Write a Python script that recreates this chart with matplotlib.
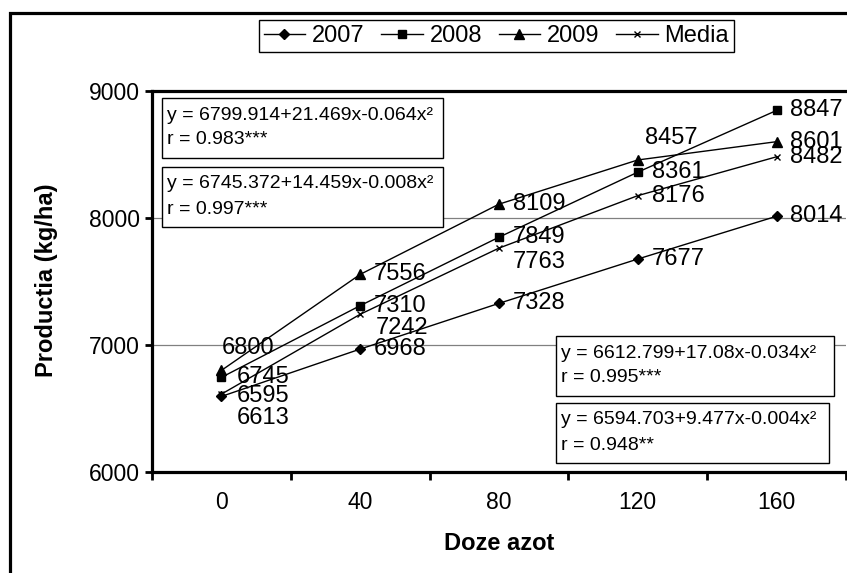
import matplotlib
matplotlib.use('Agg')
import matplotlib.pyplot as plt
from matplotlib.patches import Rectangle

plt.rcParams['font.family'] = ['Liberation Sans', 'DejaVu Sans']

# ---- data ----
doze = ['0', '40', '80', '120', '160']
y2007 = [6595, 6968, 7328, 7677, 8014]
y2008 = [6745, 7310, 7849, 8361, 8847]
y2009 = [6800, 7556, 8109, 8457, 8601]
media = [6613, 7242, 7763, 8176, 8482]
series_names = ['2007', '2008', '2009', 'Media']
yticks = [6000, 7000, 8000, 9000]

eq_lines = [
    ('y = 6799.914+21.469x-0.064x\u00b2', 'r = 0.983***'),
    ('y = 6745.372+14.459x-0.008x\u00b2', 'r = 0.997***'),
    ('y = 6612.799+17.08x-0.034x\u00b2', 'r = 0.995***'),
    ('y = 6594.703+9.477x-0.004x\u00b2', 'r = 0.948**'),
]

# ---- layout helpers (pixels -> figure fraction) ----
W, H = 847, 573
fig = plt.figure(figsize=(W / 100, H / 100), dpi=100)
def fx(px):
    return px / W
def fy(py):
    return 1 - py / H

# outer frame (cut by the image edges)
fig.patches.append(Rectangle((fx(10), fy(700)), 2.0, fy(13) - fy(700),
                             transform=fig.transFigure, fill=False,
                             edgecolor='black', linewidth=2.3))

ax = fig.add_axes([fx(152), fy(472), fx(846) - fx(152), fy(91) - fy(472)])
xs = list(range(len(doze)))

styles = [
    dict(marker='D', ms=5.5),
    dict(marker='s', ms=6),
    dict(marker='^', ms=7),
    dict(marker='x', ms=5, mew=1.0),
]
all_series = [y2007, y2008, y2009, media]
handles = []
for vals, name, st in zip(all_series, series_names, styles):
    h, = ax.plot(xs, vals, color='black', lw=1.0, mfc='black', mec='black',
                 label=name, zorder=3, **st)
    handles.append(h)

# data labels
default_off = (10, 0)
special = {
    (2, 0): (0, 16, 'left'),
    (3, 0): (11, -17, 'left'),
    (3, 1): (11, -10, 'left'),
    (3, 2): (10, -10, 'left'),
    (2, 3): (5, 16, 'left'),
    (0, 0): (11, 0, 'left'),
    (1, 0): (11, 0, 'left'),
}
for si, vals in enumerate(all_series):
    for i, v in enumerate(vals):
        dx, dy, ha = special.get((si, i), (default_off[0], default_off[1], 'left'))
        ax.annotate(str(v), (xs[i], v), xytext=(dx, dy), textcoords='offset points',
                    ha=ha, va='center', fontsize=17, color='black', zorder=4)

ax.set_xlim(-0.5, 4.5)
ax.set_ylim(6000, 9000)
ax.set_yticks(yticks)
ax.set_xticks(xs)
ax.set_xticklabels(doze)
ax.set_xticks([i - 0.5 for i in range(len(doze) + 1)], minor=True)
ax.tick_params(axis='x', which='major', length=0, pad=14, labelsize=16.5)
ax.tick_params(axis='x', which='minor', length=6, width=2, direction='out')
ax.tick_params(axis='y', length=5, width=2, pad=4, labelsize=16.5, direction='out')

for yv in yticks[1:-1]:
    ax.axhline(yv, color='#808080', lw=0.9, zorder=1)

ax.spines['right'].set_visible(False)
for s in ['left', 'bottom', 'top']:
    ax.spines[s].set_linewidth(2.3)

# axis titles
fig.text(fx(499), fy(543), 'Doze azot', ha='center', va='center',
         fontsize=17, fontweight='bold')
fig.text(fx(46), fy(280), 'Productia (kg/ha)', ha='center', va='center',
         rotation=90, fontsize=17, fontweight='bold')

# equation boxes
boxes = [(162, 98, 443, 158), (162, 167, 443, 227),
         (556, 336, 834, 396), (556, 403, 829, 463)]
for (l, t, r, b), (l1, l2) in zip(boxes, eq_lines):
    fig.patches.append(Rectangle((fx(l), fy(b)), fx(r) - fx(l), fy(t) - fy(b),
                                 transform=fig.transFigure, facecolor='white',
                                 edgecolor='black', linewidth=1.0, zorder=5))
    fig.text(fx(l + 5), fy(t + 17), l1, ha='left', va='center', fontsize=14, zorder=6)
    fig.text(fx(l + 5), fy(t + 42), l2, ha='left', va='center', fontsize=14, zorder=6)

leg = fig.legend(handles=handles, loc='center', bbox_to_anchor=(fx(496.5), fy(36)),
                 ncol=4, frameon=True, fancybox=False, edgecolor='black',
                 framealpha=1, fontsize=17, borderpad=0.2, handlelength=1.75,
                 handletextpad=0.3, columnspacing=0.7, borderaxespad=0)
leg.get_frame().set_linewidth(1.0)

fig.savefig('out.png', dpi=100)
